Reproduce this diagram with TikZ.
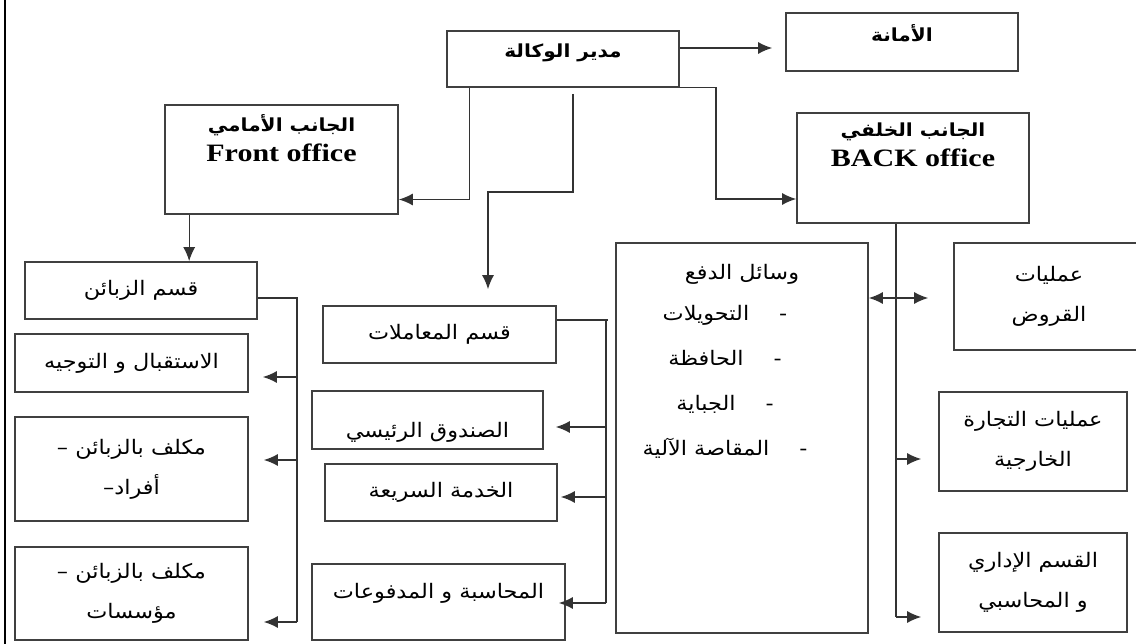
\documentclass[tikz,border=0pt]{standalone}
\usepackage{fontspec}
\setmainfont{Liberation Serif}
\newfontfamily\arabicfont[Script=Arabic,FakeStretch=1.12]{DejaVu Sans}
\newfontfamily\headfont[FakeStretch=1.2]{Liberation Serif}
\usetikzlibrary{arrows.meta,positioning}
\TeXXeTstate=1
\newcommand{\artxt}[1]{{\arabicfont\beginR #1\endR}}

\begin{document}
\begin{tikzpicture}[
  x=1pt, y=-1pt,
  >={Latex[length=14pt,width=12pt]},
  every node/.style={font=\fontsize{20}{40}\selectfont},
  box/.style 2 args={draw=black!75, line width=1.6pt, minimum width=#1, minimum height=#2, inner sep=0pt, align=center},
  head/.style={font=\fontsize{18}{30}\selectfont\bfseries, align=center, inner sep=0pt},
  conn/.style={draw=black!80, line width=1.4pt}
]
\useasboundingbox (0,0) rectangle (1136,644);
\draw[line width=1.4pt] (5,0) -- (5,644);

% Top row
\node (dir)   [box={232pt}{56pt}]  at (563,59)    {};
\node (amana) [box={232pt}{58pt}]  at (902,42)    {};
\node (front) [box={233pt}{109pt}] at (281.5,159.5) {};
\node (back)  [box={232pt}{110pt}] at (913,168)   {};

\node (dirtxt)   [head] at ([yshift=6pt]dir.center) {\artxt{مدير الوكالة}};
\node (amanatxt) [head, below=12pt of amana.north] {\artxt{الأمانة}};
\node (fronttxt) [head, below=10pt of front.north] {\artxt{الجانب الأمامي}\\{\headfont\fontsize{25}{30}\selectfont Front office}};
\node (backtxt)  [head, below=10pt of back.north]  {\artxt{الجانب الخلفي}\\{\headfont\fontsize{25}{30}\selectfont BACK office}};

% Front office column
\node (cust)  [box={232pt}{57pt}]  at (141,290.5)   {\artxt{قسم الزبائن}};
\node (recep) [box={233pt}{58pt}]  at (131.5,363)   {\artxt{الاستقبال و التوجيه}};
\node (indiv) [box={233pt}{104pt}] at (131.5,469)   {\artxt{مكلف بالزبائن –}\\\artxt{أفراد–}};
\node (inst)  [box={233pt}{93pt}]  at (131.5,593.5) {\artxt{مكلف بالزبائن –}\\\artxt{مؤسسات}};

% Transactions column
\node (trans) [box={233pt}{57pt}] at (439.5,334.5) {\artxt{قسم المعاملات}};
\node (cash)  [box={231pt}{58pt}] at (427.5,420)   {};
\node (quick) [box={232pt}{57pt}] at (441,492.5)   {\artxt{الخدمة السريعة}};
\node (acct)  [box={253pt}{76pt}] at (438.5,602)   {};
\node (cashtxt) at ([yshift=-12pt]cash.center) {\artxt{الصندوق الرئيسي}};
\node (accttxt) at ([yshift=9pt]acct.center)   {\artxt{المحاسبة و المدفوعات}};

% Payment means
\node (pay) [box={252pt}{390pt}] at (742,438) {};
\node (paytitle) [below=19pt of pay.north] {\artxt{وسائل الدفع}};
\node (payitems) [below=13pt of paytitle, xshift=-17pt, align=center, font=\fontsize{20}{45}\selectfont]
  {\artxt{-\hspace{30pt}التحويلات}\\\artxt{-\hspace{30pt}الحافظة}\\\artxt{-\hspace{30pt}الجباية}\\\artxt{-\hspace{30pt}المقاصة الآلية}};

% Back office column
\node (loans) [box={190pt}{107pt}] at (1049,296.5) {\artxt{عمليات}\\\artxt{القروض}};
\node (trade) [box={188pt}{99pt}]  at (1033,441.5) {\artxt{عمليات التجارة}\\\artxt{الخارجية}};
\node (admin) [box={188pt}{99pt}]  at (1033,582.5) {\artxt{القسم الإداري}\\\artxt{و المحاسبي}};

% Arrows from the director
\draw[conn, ->, shorten >=13pt] ([yshift=11pt]dir.east) -- ([yshift=11pt]dir.east -| amana.west);
\draw[conn, ->] ([xshift=23pt]dir.south west) |- ([yshift=-40pt]front.east);
\coordinate (tbend) at (488,192);
\draw[conn, ->, shorten >=16pt] ([xshift=10pt,yshift=-6pt]dir.south) |- (tbend) -- (tbend |- trans.north);
\draw[conn, ->] (dir.south east) -- ++(36,0) |- ([yshift=-31pt]back.west);

% Front office links
\draw[conn, ->] ([xshift=25pt]front.south west) -- ([xshift=25pt]front.south west |- cust.north);
\coordinate (lb1) at (297,377);
\coordinate (lb2) at (297,460);
\coordinate (lb3) at (297,622);
\draw[conn] ([yshift=-7.5pt]cust.east) -| (lb3);
\draw[conn, ->, shorten >=14pt] (lb1) -- (lb1 -| recep.east);
\draw[conn, ->, shorten >=15pt] (lb2) -- (lb2 -| indiv.east);
\draw[conn, ->, shorten >=15pt] (lb3) -- (lb3 -| inst.east);

% Transactions links
\coordinate (mb0) at (606,320);
\coordinate (mb1) at (606,427);
\coordinate (mb2) at (606,497);
\coordinate (mb3) at (606,603);
\draw[conn] (trans.east |- mb0) -- ([xshift=2pt]mb0);
\draw[conn] (mb0) -- (mb3);
\draw[conn, ->, shorten >=12pt] (mb1) -- (mb1 -| cash.east);
\draw[conn, ->, shorten >=3pt]  (mb2) -- (mb2 -| quick.east);
\draw[conn, ->, shorten >=-7pt] (mb3) -- (mb3 -| acct.east);

% Back office links
\coordinate (rb1) at (896,298);
\coordinate (rb2) at (896,459);
\coordinate (rb3) at (896,617);
\draw[conn] ([xshift=-17pt]back.south) -- (rb3);
\draw[conn, ->, shorten >=25pt] (rb1) -- (rb1 -| loans.west);
\draw[conn, ->] (rb1) -- (rb1 -| pay.east);
\draw[conn, ->, shorten >=17pt] (rb2) -- (rb2 -| trade.west);
\draw[conn, ->, shorten >=17pt] (rb3) -- (rb3 -| admin.west);

\end{tikzpicture}
\end{document}
